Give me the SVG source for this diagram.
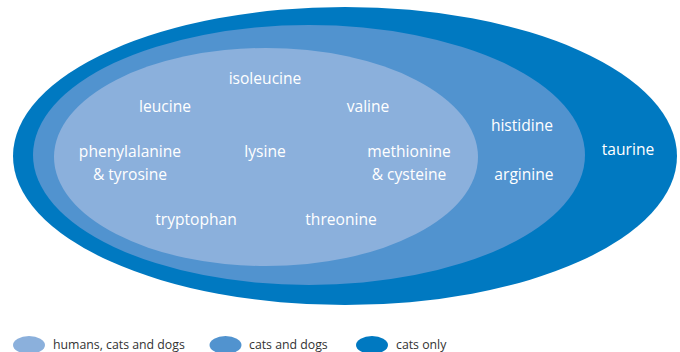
<svg xmlns="http://www.w3.org/2000/svg" width="680" height="352" viewBox="0 0 680 352">
<style>
.t{font-family:"Open Sans","Noto Sans",sans-serif;font-size:15.6px;fill:#ffffff;text-anchor:middle}
.l{font-family:"Open Sans","Noto Sans",sans-serif;font-size:12.3px;fill:#333333}
.c1{fill:#0079C1}.c2{fill:#5193CF}.c3{fill:#8BB0DC}
</style>
<rect width="680" height="352" fill="#ffffff"/>
<g id="outer"><ellipse class="c1" cx="345" cy="156" rx="332" ry="149"/></g>
<g id="middle"><ellipse class="c2" cx="309" cy="155" rx="276" ry="130"/></g>
<g id="inner"><ellipse class="c3" cx="266" cy="157" rx="212" ry="109"/></g>
<g id="labels">
<text class="t" x="265" y="84">isoleucine</text>
<text class="t" x="165" y="112">leucine</text>
<text class="t" x="368" y="112">valine</text>
<text class="t" x="130" y="157">phenylalanine</text>
<text class="t" x="130" y="180">&amp; tyrosine</text>
<text class="t" x="265" y="157">lysine</text>
<text class="t" x="409" y="157">methionine</text>
<text class="t" x="409" y="180">&amp; cysteine</text>
<text class="t" x="196" y="225">tryptophan</text>
<text class="t" x="341" y="225">threonine</text>
<text class="t" x="522" y="131">histidine</text>
<text class="t" x="524" y="180">arginine</text>
<text class="t" x="628" y="155">taurine</text>
</g>
<g id="legend">
<ellipse class="c3" cx="29" cy="345" rx="16" ry="9"/>
<text class="l" x="53" y="349">humans, cats and dogs</text>
<ellipse class="c2" cx="225.5" cy="345" rx="16" ry="9"/>
<text class="l" x="249" y="349">cats and dogs</text>
<ellipse class="c1" cx="372" cy="345" rx="16" ry="9"/>
<text class="l" x="396" y="349">cats only</text>
</g>
</svg>
